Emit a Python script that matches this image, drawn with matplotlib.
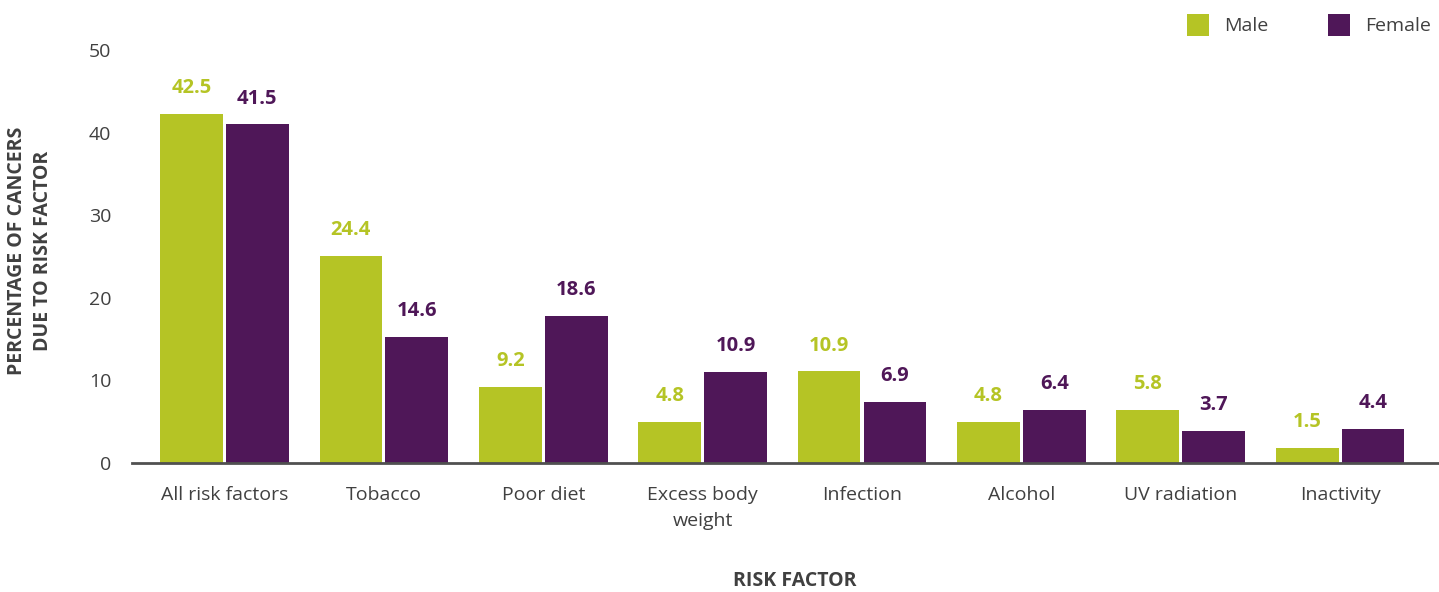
import matplotlib
matplotlib.use("Agg")
import matplotlib.pyplot as plt
from matplotlib.patches import Rectangle
import numpy as np

plt.rcParams['font.family'] = ['Open Sans', 'DejaVu Sans']

categories = ["All risk factors", "Tobacco", "Poor diet", "Excess body\nweight",
              "Infection", "Alcohol", "UV radiation", "Inactivity"]
# bar heights as drawn in the reference
male_heights = [42.3, 25.1, 9.2, 5.0, 11.1, 5.0, 6.4, 1.8]
female_heights = [41.0, 15.3, 17.8, 11.0, 7.4, 6.4, 3.9, 4.1]
# printed data labels
male_labels = ["42.5", "24.4", "9.2", "4.8", "10.9", "4.8", "5.8", "1.5"]
female_labels = ["41.5", "14.6", "18.6", "10.9", "6.9", "6.4", "3.7", "4.4"]
yticks = [0, 10, 20, 30, 40, 50]

GREEN = "#B5C425"
PURPLE = "#4F1758"
TEXT = "#404040"

W, H = 1439, 592
fig = plt.figure(figsize=(W / 100, H / 100), dpi=100)
ax = fig.add_axes([132 / W, 1 - 463 / H, (W - 132) / W, (463 - 50) / H])

x = np.arange(len(categories))
bw = 0.394
gap = 0.019
off = (bw + gap) / 2
bm = ax.bar(x - off, male_heights, width=bw, color=GREEN, linewidth=0)
bf = ax.bar(x + off, female_heights, width=bw, color=PURPLE, linewidth=0)

for rect, lab in zip(bm, male_labels):
    ax.annotate(lab, (rect.get_x() + rect.get_width() / 2, rect.get_height()),
                xytext=(0, 18.5), textcoords="offset points", ha="center", va="center",
                fontsize=14.5, fontweight="bold", color=GREEN)
for rect, lab in zip(bf, female_labels):
    ax.annotate(lab, (rect.get_x() + rect.get_width() / 2, rect.get_height()),
                xytext=(0, 18.5), textcoords="offset points", ha="center", va="center",
                fontsize=14.5, fontweight="bold", color=PURPLE)

ax.set_xlim(-0.58, len(categories) - 1 + 0.62)
ax.set_ylim(0, 50)
ax.set_yticks(yticks)
ax.set_xticks(x)
ax.set_xticklabels(categories, fontsize=14, color=TEXT, linespacing=1.55)
ax.tick_params(axis="y", length=0, pad=15, labelsize=14, labelcolor=TEXT)
ax.tick_params(axis="x", length=0, pad=16.5)
for s in ["top", "right", "left"]:
    ax.spines[s].set_visible(False)
ax.spines["bottom"].set_color("#505050")
ax.spines["bottom"].set_linewidth(2)

fig.text(17 / W, 1 - 251 / H, "PERCENTAGE OF CANCERS", rotation=90, ha="center", va="center",
         fontsize=14, fontweight="bold", color=TEXT)
fig.text(43 / W, 1 - 251 / H, "DUE TO RISK FACTOR", rotation=90, ha="center", va="center",
         fontsize=14, fontweight="bold", color=TEXT)
fig.text(795 / W, 1 - 581 / H, "RISK FACTOR", ha="center", va="center",
         fontsize=14, fontweight="bold", color=TEXT)

# legend
for (x0, col, name) in [(1187, GREEN, "Male"), (1328, PURPLE, "Female")]:
    fig.add_artist(Rectangle((x0 / W, 1 - 36 / H), 22 / W, 22 / H,
                             transform=fig.transFigure, color=col, linewidth=0))
    fig.text((x0 + 37) / W, 1 - 26 / H, name, ha="left", va="center",
             fontsize=14, color=TEXT)

fig.savefig("out.png", dpi=100)
